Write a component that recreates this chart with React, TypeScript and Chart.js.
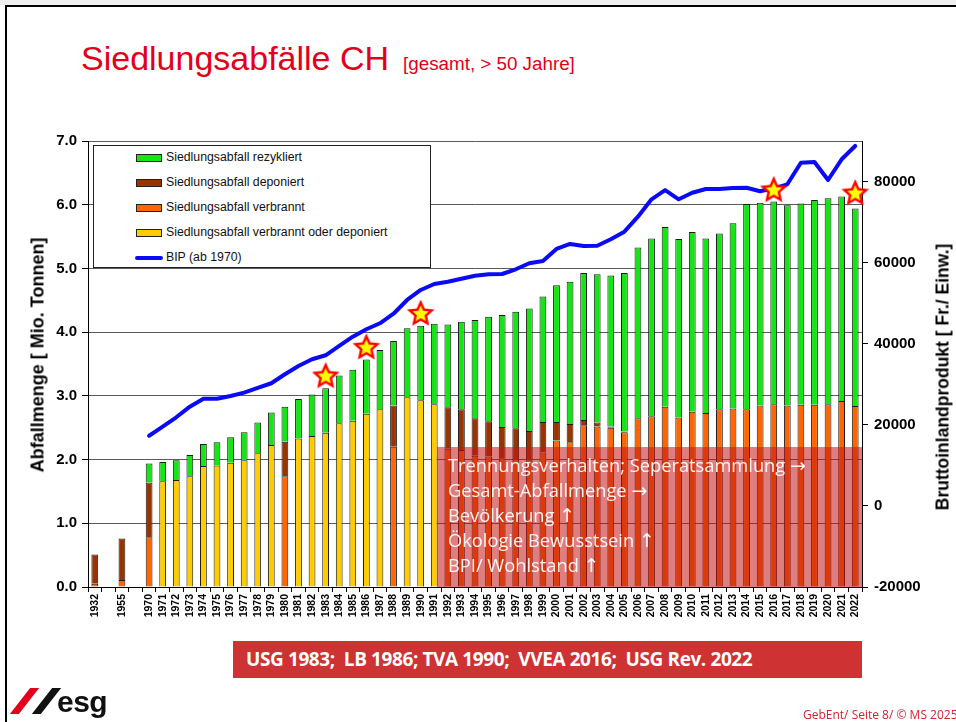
import React, { useEffect, useRef } from 'react';
import { Chart, registerables } from 'chart.js';

Chart.register(...registerables);

const labels = [
  '1932', '', '1955', '',
  '1970', '1971', '1972', '1973', '1974', '1975', '1976', '1977', '1978', '1979',
  '1980', '1981', '1982', '1983', '1984', '1985', '1986', '1987', '1988', '1989',
  '1990', '1991', '1992', '1993', '1994', '1995', '1996', '1997', '1998', '1999',
  '2000', '2001', '2002', '2003', '2004', '2005', '2006', '2007', '2008', '2009',
  '2010', '2011', '2012', '2013', '2014', '2015', '2016', '2017', '2018', '2019',
  '2020', '2021', '2022',
];

// Mio. Tonnen
const verbrannt = [
  0.05, null, 0.11, null,
  0.78, null, null, null, null, null, null, null, null, null,
  1.74, null, null, null, null, null, null, null, 2.20, null,
  null, null, 2.17, 2.15, 2.06, 2.05, 2.02, 2.00, 1.99, 2.11,
  2.30, 2.27, 2.54, 2.52, 2.50, 2.43, 2.65, 2.68, 2.83, 2.66,
  2.75, 2.73, 2.79, 2.80, 2.79, 2.85, 2.87, 2.85, 2.86, 2.86,
  2.87, 2.92, 2.84,
];

const deponiert = [
  0.46, null, 0.65, null,
  0.86, null, null, null, null, null, null, null, null, null,
  0.54, null, null, null, null, null, null, null, 0.65, null,
  null, null, 0.65, 0.64, 0.59, 0.55, 0.49, 0.49, 0.46, 0.48,
  0.29, 0.29, 0.08, 0.06, 0.02, 0.01, null, null, null, null,
  null, null, null, null, null, null, null, null, null, null,
  null, null, null,
];

const verbranntOderDeponiert = [
  null, null, null, null,
  null, 1.66, 1.68, 1.74, 1.90, 1.905, 1.95, 1.99, 2.10, 2.23,
  null, 2.33, 2.37, 2.42, 2.57, 2.61, 2.72, 2.79, null, 2.98,
  2.93, 2.87, null, null, null, null, null, null, null, null,
  null, null, null, null, null, null, null, null, null, null,
  null, null, null, null, null, null, null, null, null, null,
  null, null, null,
];

const rezykliert = [
  null, null, null, null,
  0.30, 0.30, 0.31, 0.33, 0.345, 0.365, 0.40, 0.44, 0.48, 0.51,
  0.55, 0.62, 0.65, 0.70, 0.75, 0.80, 0.85, 0.93, 1.01, 1.08,
  1.17, 1.26, 1.30, 1.375, 1.54, 1.64, 1.76, 1.83, 1.92, 1.97,
  2.145, 2.23, 2.31, 2.33, 2.37, 2.49, 2.68, 2.79, 2.82, 2.80,
  2.82, 2.74, 2.76, 2.91, 3.22, 3.18, 3.18, 3.14, 3.16, 3.215,
  3.23, 3.21, 3.10,
];

// Fr./Einw.
const bip = [
  null, null, null, null,
  17300, 19550, 21860, 24480, 26450, 26450, 27120, 27930, 29090, 30250,
  32470, 34515, 36170, 37150, 39450, 41740, 43565, 45045, 47400, 50790,
  53260, 54740, 55300, 56040, 56780, 57130, 57200, 58360, 59840, 60410,
  63370, 64600, 64110, 64180, 65760, 67630, 71330, 75620, 77900, 75620,
  77250, 78160, 78160, 78400, 78480, 77600, 78330, 79320, 84650, 84820,
  80380, 85490, 88770,
];

const starYears = ['1983', '1986', '1990', '2016', '2022'];
const starValues = [3.32, 3.77, 4.30, 6.24, 6.19];

const leftRange = { min: 0, max: 7, step: 1 };
const rightRange = { min: -20000, max: 90000 };
const rightTickValues = [-20000, 0, 20000, 40000, 60000, 80000];

const legendItems = [
  { label: 'Siedlungsabfall rezykliert', color: '#14E614', kind: 'box' },
  { label: 'Siedlungsabfall deponiert', color: '#993300', kind: 'box' },
  { label: 'Siedlungsabfall verbrannt', color: '#FF6600', kind: 'box' },
  { label: 'Siedlungsabfall verbrannt oder deponiert', color: '#FFCC00', kind: 'box' },
  { label: 'BIP (ab 1970)', color: '#0A0AF5', kind: 'line' },
];

const notes = [
  { text: 'Trennungsverhalten; Seperatsammlung', arrow: '\u2192' },
  { text: 'Gesamt-Abfallmenge', arrow: '\u2192' },
  { text: 'Bev\u00f6lkerung', arrow: '\u2191' },
  { text: '\u00d6kologie Bewusstsein', arrow: '\u2191' },
  { text: 'BPI/ Wohlstand', arrow: '\u2191' },
];

const laws = 'USG 1983;\u00a0 LB 1986; TVA 1990;\u00a0 VVEA 2016;\u00a0 USG Rev. 2022';

function makeStar(): HTMLCanvasElement {
  const c = document.createElement('canvas');
  c.width = 30;
  c.height = 30;
  const ctx = c.getContext('2d')!;
  const drawStar = (R: number, r: number, fill: string) => {
    ctx.beginPath();
    for (let i = 0; i < 10; i++) {
      const rad = i % 2 === 0 ? R : r;
      const a = -Math.PI / 2 + (i * Math.PI) / 5;
      const x = 15 + rad * Math.cos(a);
      const y = 16 + rad * Math.sin(a);
      if (i === 0) ctx.moveTo(x, y);
      else ctx.lineTo(x, y);
    }
    ctx.closePath();
    ctx.fillStyle = fill;
    ctx.fill();
  };
  drawStar(14.5, 6.8, '#FF0000');
  drawStar(8.5, 4.0, '#FFFF00');
  return c;
}

const FONT = "'Liberation Sans', Arial, sans-serif";

export default function App() {
  const canvasRef = useRef<HTMLCanvasElement | null>(null);

  useEffect(() => {
    if (!canvasRef.current) return;
    const star = makeStar();
    const barCommon = {
      type: 'bar' as const,
      borderColor: '#1a1a1a',
      borderWidth: 1,
      barPercentage: 0.5,
      categoryPercentage: 1,
      yAxisID: 'y',
      stack: 'waste',
      order: 2,
    };
    const chart = new Chart(canvasRef.current, {
      type: 'bar',
      data: {
        labels,
        datasets: [
          {
            type: 'line' as const,
            label: 'Sterne',
            data: starYears.map((yr, i) => ({ x: yr, y: starValues[i] })) as any,
            showLine: false,
            pointStyle: star as any,
            pointRadius: 14,
            yAxisID: 'y',
            stack: 'stars',
            order: 0,
          },
          {
            type: 'line' as const,
            label: 'BIP (ab 1970)',
            data: bip,
            borderColor: '#0A0AF5',
            borderWidth: 4,
            pointRadius: 0,
            tension: 0,
            borderCapStyle: 'round',
            borderJoinStyle: 'round',
            yAxisID: 'y1',
            order: 1,
          },
          { ...barCommon, label: 'Siedlungsabfall verbrannt', data: verbrannt, backgroundColor: '#FF6600' },
          { ...barCommon, label: 'Siedlungsabfall deponiert', data: deponiert, backgroundColor: '#993300' },
          { ...barCommon, label: 'Siedlungsabfall verbrannt oder deponiert', data: verbranntOderDeponiert, backgroundColor: '#FFCC00' },
          { ...barCommon, label: 'Siedlungsabfall rezykliert', data: rezykliert, backgroundColor: '#14E614' },
        ] as any,
      },
      options: {
        animation: false,
        responsive: true,
        maintainAspectRatio: false,
        devicePixelRatio: 1,
        layout: { padding: { top: 141, left: 0, right: 0, bottom: 0 } },
        plugins: { legend: { display: false }, tooltip: { enabled: false } },
        scales: {
          x: {
            stacked: true,
            grid: { display: true, drawOnChartArea: false, drawTicks: true, tickLength: 5, color: '#000', offset: true },
            border: { display: true, color: '#000', width: 1 },
            ticks: {
              autoSkip: false,
              maxRotation: 90,
              minRotation: 90,
              padding: 2,
              color: '#000',
              font: { family: FONT, size: 10.5, weight: 'bold' },
            },
            afterFit: (s: any) => { s.height = 135; },
          },
          y: {
            position: 'left',
            stacked: true,
            min: leftRange.min,
            max: leftRange.max,
            ticks: {
              stepSize: leftRange.step,
              padding: 5,
              color: '#000',
              font: { family: FONT, size: 15, weight: 'bold' },
              callback: (v: any) => Number(v).toFixed(1),
            },
            grid: { color: '#5a5a5a', lineWidth: 1, tickLength: 6, tickColor: '#000' },
            border: { display: true, color: '#000', width: 1 },
            afterFit: (s: any) => { s.width = 88; },
          },
          y1: {
            position: 'right',
            min: rightRange.min,
            max: rightRange.max,
            ticks: {
              padding: 6,
              color: '#000',
              font: { family: FONT, size: 15, weight: 'bold' },
              callback: (v: any) => String(v),
            },
            afterBuildTicks: (s: any) => { s.ticks = rightTickValues.map((v) => ({ value: v })); },
            grid: { drawOnChartArea: false, tickLength: 6, color: '#000' },
            border: { display: true, color: '#000', width: 1 },
            afterFit: (s: any) => { s.width = 94; },
          },
        },
      } as any,
    });
    return () => chart.destroy();
  }, []);

  const abs = (o: React.CSSProperties): React.CSSProperties => ({ position: 'absolute', ...o });

  return (
    <div style={abs({ left: 0, top: 0, width: 956, height: 722, overflow: 'hidden', background: '#fff', fontFamily: FONT })}>
      <div style={abs({ left: 0, top: 0, width: 956, height: 5, background: '#efefef' })} />
      <div style={abs({ left: 5, top: 5, width: 960, height: 730, borderTop: '2px solid #000', borderLeft: '2px solid #000', boxSizing: 'border-box' })} />

      <div style={abs({ left: 81, top: 41, whiteSpace: 'nowrap', color: '#E2001A', lineHeight: 1 })}>
        <span style={{ fontSize: 34 }}>Siedlungsabfälle CH</span>
        <span style={{ fontSize: 18.8, marginLeft: 14 }}>[gesamt, &gt; 50 Jahre]</span>
      </div>

      <div style={abs({ left: 0, top: 0, width: 956, height: 722 })}>
        <canvas ref={canvasRef} />
      </div>

      <div style={abs({ left: 93, top: 145, width: 338, height: 123, background: '#fff', border: '1px solid #222', boxSizing: 'border-box' })}>
        {legendItems.map((it, i) => (
          <div key={it.label} style={abs({ left: 0, top: 11.5 + i * 25, width: 336, height: 0 })}>
            {it.kind === 'box' ? (
              <div style={abs({ left: 42, top: -4, width: 26, height: 8, background: it.color, border: '1px solid #222', boxSizing: 'border-box' })} />
            ) : (
              <div style={abs({ left: 41, top: -2, width: 28, height: 4, background: it.color, borderRadius: 2 })} />
            )}
            <div style={abs({ left: 72, top: -9, fontSize: 12.3, lineHeight: '17px', color: '#111', whiteSpace: 'nowrap' })}>{it.label}</div>
          </div>
        ))}
      </div>

      <div style={abs({ left: 38, top: 355, transform: 'translate(-50%, -50%) rotate(-90deg)', whiteSpace: 'nowrap', fontWeight: 'bold', fontSize: 18, color: '#000' })}>
        Abfallmenge [ Mio. Tonnen]
      </div>
      <div style={abs({ left: 943, top: 377, transform: 'translate(-50%, -50%) rotate(-90deg)', whiteSpace: 'nowrap', fontWeight: 'bold', fontSize: 17.5, color: '#000' })}>
        Bruttoinlandprodukt [ Fr./ Einw.]
      </div>

      <div style={abs({ left: 437, top: 447, width: 425, height: 140, background: 'rgba(195, 20, 20, 0.55)' })}>
        {notes.map((n) => n).map((n, i) => (
          <div key={n.text} style={abs({ left: 11, top: 6 + i * 25, fontFamily: "'Open Sans', sans-serif", fontSize: 18.3, lineHeight: '24px', color: 'rgba(255,255,255,0.93)', whiteSpace: 'nowrap' })}>
            {n.text} <span style={{ fontFamily: "'DejaVu Sans', sans-serif", fontSize: 19 }}>{n.arrow}</span>
          </div>
        ))}
      </div>

      <div style={abs({ left: 233, top: 641, width: 629, height: 37, background: '#CF3232' })}>
        <div style={abs({ left: 13, top: 0, lineHeight: '37px', fontFamily: "'Open Sans', sans-serif", fontWeight: 700, fontSize: 19, color: '#fff', whiteSpace: 'nowrap', letterSpacing: -0.4 })}>{laws}</div>
      </div>

      <div style={abs({ left: 20, top: 688, width: 9, height: 26, background: '#E2001A', transform: 'skewX(-38deg)' })} />
      <div style={abs({ left: 42, top: 688, width: 9, height: 26, background: '#111', transform: 'skewX(-38deg)' })} />
      <div style={abs({ left: 57, top: 687, fontWeight: 'bold', fontSize: 30, lineHeight: '30px', color: '#111', fontFamily: "'Liberation Sans Narrow', 'Liberation Sans', Arial, sans-serif", letterSpacing: -0.5 })}>esg</div>

      <div style={abs({ left: 803, top: 707, fontFamily: "'Open Sans', sans-serif", fontSize: 12, lineHeight: '16px', color: '#C8282E', whiteSpace: 'nowrap' })}>GebEnt/ Seite 8/ © MS 2025</div>
    </div>
  );
}
